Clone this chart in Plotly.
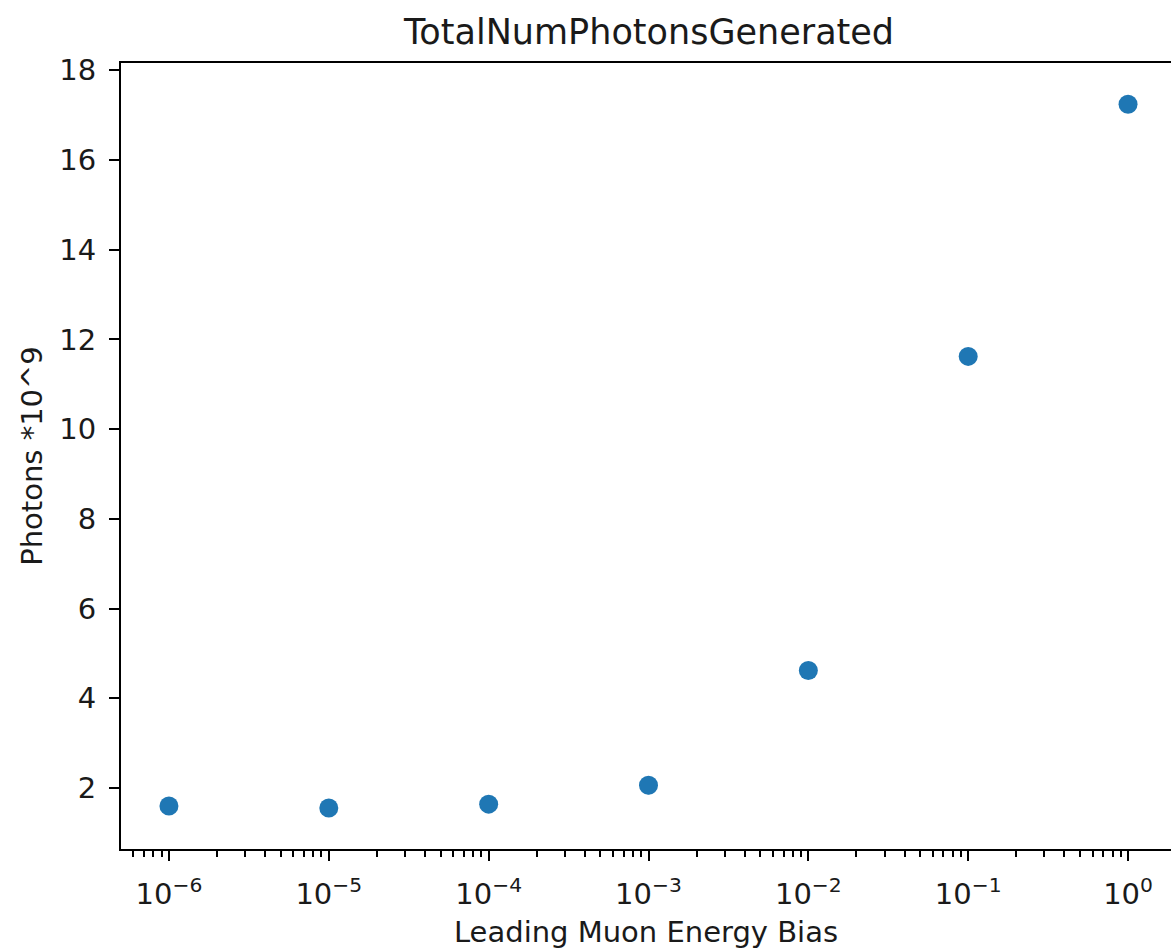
import numpy as np
import plotly.graph_objects as go

# Leading muon energy bias settings and total photons generated (in units of 1e9)
bias = [1e-6, 1e-5, 1e-4, 1e-3, 1e-2, 1e-1, 1e0]
photons = [1.60, 1.555, 1.64, 2.06, 4.62, 11.62, 17.24]
photons_err = [0.03, 0.03, 0.04, 0.2, 0.08, 0.1, 0.1]

major_vals = [1e-6, 1e-5, 1e-4, 1e-3, 1e-2, 1e-1, 1e0]
major_text = ["10<sup>\u22126</sup>", "10<sup>\u22125</sup>", "10<sup>\u22124</sup>",
              "10<sup>\u22123</sup>", "10<sup>\u22122</sup>", "10<sup>\u22121</sup>",
              "10<sup>0</sup>"]
y_ticks = [2, 4, 6, 8, 10, 12, 14, 16, 18]

minor_vals = [k * 10.0 ** e for e in range(-7, 1) for k in range(2, 10)]

FONT = "DejaVu Sans"
BLUE = "#1f77b4"
TEXT = "#1a1a1a"

fig = go.Figure(
    go.Scatter(
        x=bias,
        y=photons,
        mode="markers",
        marker=dict(color=BLUE, size=19, line=dict(width=0)),
        error_y=dict(type="data", array=photons_err, color=BLUE, thickness=2.5, width=0),
    )
)

fig.update_layout(
    width=1171,
    height=951,
    margin=dict(l=121, r=0, t=63, b=102),
    paper_bgcolor="white",
    plot_bgcolor="white",
    showlegend=False,
    font=dict(family=FONT, size=29, color=TEXT),
    title=dict(
        text="TotalNumPhotonsGenerated",
        x=649 / 1171,
        xanchor="center",
        y=1 - 32 / 951,
        yanchor="middle",
        font=dict(family=FONT, size=35, color=TEXT),
    ),
)

fig.update_xaxes(
    type="log",
    range=[-6.3, 0.3 - 5 / 159.7],
    tickmode="array",
    tickvals=major_vals,
    ticktext=major_text,
    ticks="outside",
    ticklen=10,
    tickwidth=2.2,
    tickcolor="black",
    ticklabelstandoff=8,
    showgrid=False,
    zeroline=False,
    showline=True,
    linecolor="black",
    linewidth=2.2,
    mirror=True,
    minor=dict(tickmode="array", tickvals=minor_vals, ticks="outside",
               ticklen=6, tickwidth=1.6, tickcolor="black", showgrid=False),
    title=dict(text="Leading Muon Energy Bias", standoff=12,
               font=dict(family=FONT, size=29, color=TEXT)),
    tickfont=dict(family=FONT, size=29, color=TEXT),
)

fig.update_yaxes(
    range=[0.64, 18.16],
    tickmode="array",
    tickvals=y_ticks,
    ticks="outside",
    ticklen=10,
    tickwidth=2.2,
    tickcolor="black",
    ticklabelstandoff=7,
    showgrid=False,
    zeroline=False,
    showline=True,
    linecolor="black",
    linewidth=2.2,
    mirror=False,
    title=dict(text="Photons *10^9", standoff=8,
               font=dict(family=FONT, size=29, color=TEXT)),
    tickfont=dict(family=FONT, size=29, color=TEXT),
)

fig.write_html("out.html")
